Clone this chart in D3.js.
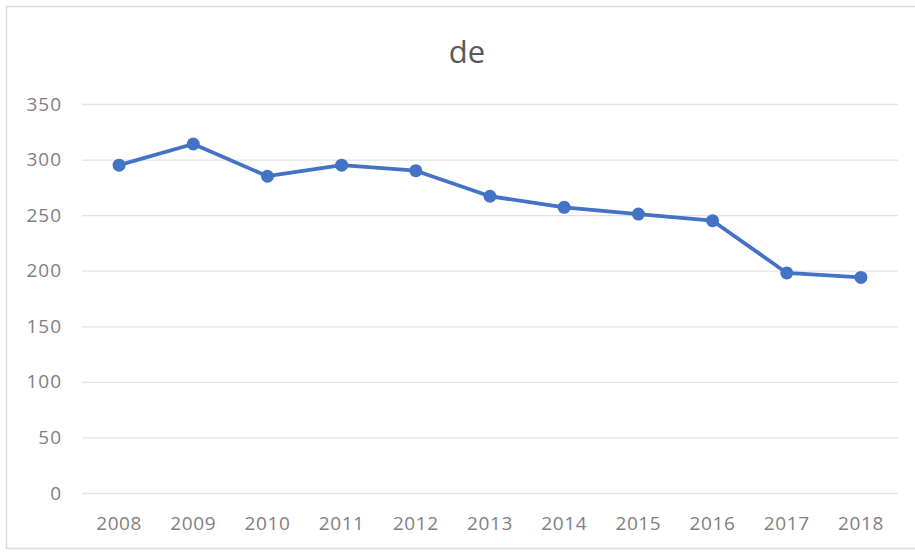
<!DOCTYPE html>
<html>
<head>
<meta charset="utf-8">
<script src="https://cdn.jsdelivr.net/npm/d3@7"></script>
<style>
  body { margin: 0; background: #fff; }
  svg { display: block; font-family: "Open Sans", "Noto Sans", sans-serif; }
</style>
</head>
<body>
<div id="chart"></div>
<script>
const years = ['2008', '2009', '2010', '2011', '2012', '2013', '2014', '2015', '2016', '2017', '2018'];
const values = [295, 314, 285, 295, 290, 267, 257, 251, 245, 198, 194];
const yTicks = [0, 50, 100, 150, 200, 250, 300, 350];
const title = 'de';

const width = 915, height = 552;
const margin = { top: 104, right: 17, bottom: 59, left: 82 };
const innerW = width - margin.left - margin.right;
const innerH = height - margin.top - margin.bottom;

const svg = d3.select('#chart').append('svg')
  .attr('width', width)
  .attr('height', height);

// outer frame
svg.append('rect')
  .attr('x', 6.5).attr('y', 6.5)
  .attr('width', width + 10).attr('height', 542)
  .attr('fill', '#fff')
  .attr('stroke', '#d9d9d9')
  .attr('stroke-width', 1.5);

svg.append('text')
  .attr('x', 467).attr('y', 63)
  .attr('text-anchor', 'middle')
  .attr('font-size', 31)
  .attr('fill', '#595959')
  .text(title);

const g = svg.append('g').attr('transform', `translate(${margin.left},${margin.top})`);

const x = d3.scaleBand().domain(years).range([0, innerW]).padding(0);
const y = d3.scaleLinear().domain([0, 350]).range([innerH, 0]);

// gridlines
g.append('g')
  .call(d3.axisLeft(y).tickValues(yTicks).tickSize(-innerW).tickFormat(''))
  .call(a => a.select('.domain').remove())
  .call(a => a.selectAll('line').attr('stroke', '#e3e3e3').attr('stroke-width', 1.3));

// y labels
g.append('g')
  .call(d3.axisLeft(y).tickValues(yTicks).tickSize(0).tickPadding(20))
  .call(a => a.select('.domain').remove())
  .call(a => a.selectAll('text')
    .attr('font-size', 19)
    .attr('letter-spacing', 1)
    .attr('fill', '#7f7f7f')
    .attr('font-family', '"Open Sans", "Noto Sans", sans-serif'));

// x labels
g.append('g')
  .attr('transform', `translate(0,${innerH})`)
  .call(d3.axisBottom(x).tickSize(0).tickPadding(24))
  .call(a => a.select('.domain').remove())
  .call(a => a.selectAll('text')
    .attr('font-size', 19)
    .attr('letter-spacing', 0.6)
    .attr('fill', '#7f7f7f')
    .attr('font-family', '"Open Sans", "Noto Sans", sans-serif'));

const cx = (d, i) => x(years[i]) + x.bandwidth() / 2;

const line = d3.line()
  .x((d, i) => cx(d, i))
  .y(d => y(d));

g.append('path')
  .datum(values)
  .attr('fill', 'none')
  .attr('stroke', '#4472c4')
  .attr('stroke-width', 3.8)
  .attr('stroke-linejoin', 'round')
  .attr('d', line);

g.selectAll('.pt')
  .data(values)
  .join('circle')
  .attr('class', 'pt')
  .attr('cx', cx)
  .attr('cy', d => y(d))
  .attr('r', 6.5)
  .attr('fill', '#4472c4');
</script>
</body>
</html>
